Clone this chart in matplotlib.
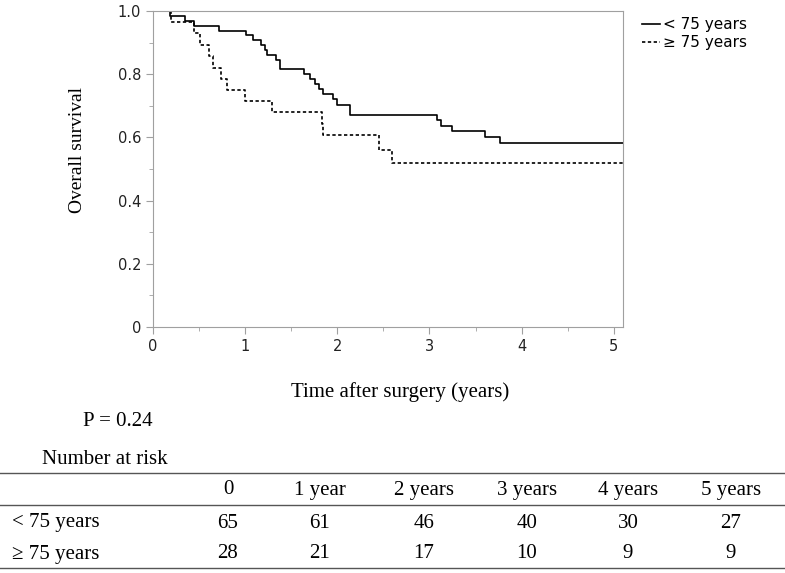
import numpy as np
import matplotlib
matplotlib.use("Agg")
import matplotlib.pyplot as plt
from matplotlib.lines import Line2D

# survival curves (step)
t_young = [0, 0.18, 0.35, 0.44, 0.72, 1.01, 1.09, 1.17, 1.22, 1.24, 1.34, 1.38, 1.64, 1.70,
           1.76, 1.80, 1.84, 1.95, 2.00, 2.14, 3.08, 3.13, 3.24, 3.60, 3.77, 5.1]
s_young = [1.0, 0.985, 0.969, 0.954, 0.938, 0.923, 0.908, 0.892, 0.877, 0.862, 0.846, 0.815, 0.800, 0.784,
           0.768, 0.752, 0.736, 0.720, 0.704, 0.672, 0.654, 0.637, 0.620, 0.601, 0.583, 0.583]
t_old = [0, 0.20, 0.44, 0.51, 0.61, 0.65, 0.74, 0.80, 1.00, 1.29, 1.83, 1.84, 2.45, 2.59, 5.1]
s_old = [1.0, 0.964, 0.929, 0.893, 0.857, 0.821, 0.786, 0.750, 0.714, 0.679, 0.643, 0.607, 0.559, 0.519, 0.519]

# number at risk table
risk_cols = ["0", "1 year", "2 years", "3 years", "4 years", "5 years"]
risk_rows = ["< 75 years", "\u2265 75 years"]
risk_young = [65, 61, 46, 40, 30, 27]
risk_old = [28, 21, 17, 10, 9, 9]

serif = "Liberation Serif"
fs = 15
W, H = 785, 573
fig = plt.figure(figsize=(7.85, 5.73), dpi=100)
ax = fig.add_axes([153/W, 1-327/H, (623-153)/W, (327-11)/H])

ax.step(t_young, s_young, where="post", color="black", lw=1.2, label="< 75 years")
ax.step(t_old, s_old, where="post", color="black", lw=1.2, ls=(0, (2, 1.5)), label="\u2265 75 years")

ax.set_xlim(0, 5.1)
ax.set_ylim(0, 1.0)
ax.set_xticks([0, 1, 2, 3, 4, 5])
ax.set_xticks(np.arange(0.5, 5, 1), minor=True)
ax.set_yticks([0, 0.2, 0.4, 0.6, 0.8, 1.0])
ax.set_yticklabels(["0", "0.2", "0.4", "0.6", "0.8", "1.0"])
ax.set_yticks(np.arange(0.1, 1.0, 0.2), minor=True)
for s in ax.spines.values():
    s.set_color("#a0a0a0")
ax.tick_params(which="major", length=5, color="#a0a0a0", labelsize=10.5, labelcolor="#222222")
ax.tick_params(which="minor", length=3, color="#a0a0a0")

ax.legend(loc="upper left", bbox_to_anchor=(642/W, 1-17/H), bbox_transform=fig.transFigure,
          frameon=False, fontsize=11, handlelength=1.2, handletextpad=0.2,
          labelspacing=0.2, borderpad=0, borderaxespad=0)

fig.text(77/W, 1-150/H, "Overall survival", rotation=90, ha="center", va="center",
         family=serif, fontsize=14)
fig.text(400/W, 1-392/H, "Time after surgery (years)", ha="center", va="center",
         family=serif, fontsize=fs)
fig.text(83/W, 1-422/H, "P = 0.24", ha="left", va="center", family=serif, fontsize=fs)
fig.text(42/W, 1-460/H, "Number at risk", ha="left", va="center", family=serif, fontsize=fs)

# table
col_x = [228, 320, 424, 527, 628, 731]
for y in [473, 505, 568]:
    fig.add_artist(Line2D([0, 1], [1-y/H, 1-y/H], color="#555555", lw=1.0))
for x, c in zip(col_x, risk_cols):
    fig.text(x/W, 1-490/H, c, ha="center", va="center", family=serif, fontsize=fs)
for yy, lab, vals in [(523, risk_rows[0], risk_young), (554, risk_rows[1], risk_old)]:
    fig.text(12/W, 1-yy/H, lab, ha="left", va="center", family=serif, fontsize=fs)
    for x, v in zip(col_x, vals):
        fig.text(x/W, 1-yy/H, str(v), ha="center", va="center", family=serif, fontsize=fs)

fig.savefig("out.png", dpi=100)
